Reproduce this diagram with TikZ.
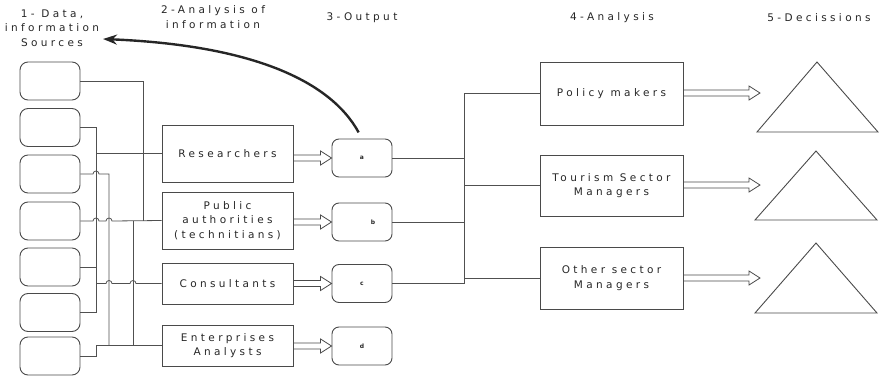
\documentclass[tikz,border=0pt]{standalone}
\usepackage{fontspec}
\usetikzlibrary{arrows.meta,calc}
\newfontfamily\diagfont{DejaVu Sans}[LetterSpace=32]
\definecolor{ink}{HTML}{262626}
\definecolor{edge}{HTML}{4A4A4A}
\definecolor{wirecol}{HTML}{505050}

% small bump where a wire jumps over a vertical one
\newcommand{\hop}[2]{-- ($(#1 |- #2)+(-3,0)$) arc[start angle=180,end angle=0,radius=3pt]}
% hollow block arrow, level with its target
\newcommand{\hollowarrow}[2]{%
  \draw[fat] let \p1=(#1), \p2=(#2) in
    (\x1,\y2+3pt) -- (\x2-11pt,\y2+3pt) -- (\x2-11pt,\y2+7pt) -- (\x2,\y2)
    -- (\x2-11pt,\y2-7pt) -- (\x2-11pt,\y2-3pt) -- (\x1,\y2-3pt);}

\begin{document}
\begin{tikzpicture}[
  x=1pt,y=-1pt,
  font=\diagfont\fontsize{10.5}{14.5}\selectfont,
  src/.style={draw=edge,line width=0.9pt,rounded corners=8pt,minimum width=60pt,minimum height=38pt},
  actor/.style={draw=edge,line width=0.9pt,minimum width=131pt,align=center,inner sep=0pt,text=ink},
  outbox/.style={draw=edge,line width=0.9pt,rounded corners=7pt,minimum width=60pt,minimum height=38pt,
    font=\diagfont\bfseries\fontsize{6}{7}\selectfont,text=ink},
  head/.style={align=center,text=ink,inner sep=0pt},
  wire/.style={draw=wirecol,line width=0.8pt},
  fat/.style={draw=edge,line width=0.8pt,line join=miter},
  tri/.style={draw=edge,line width=0.9pt,line join=miter},
  feedback/.style={draw=black!85,line width=2.4pt,-{Stealth[length=14pt,width=10pt]}}
]
\useasboundingbox (0,0) rectangle (879,378);

% column headings
\node[head] (h1) at (52,28)    {1- Data,\\information\\Sources};
\node[head] (h2) at (213,17)   {2-Analysis of\\information};
\node[head] (h3) at (362,18)   {3-Output};
\node[head] (h4) at (612,18)   {4-Analysis};
\node[head] (h5) at (819,18)   {5-Decissions};

% sources
\node[src] (s1) at (50,81)    {};
\node[src] (s2) at (50,127.5) {};
\node[src] (s3) at (50,174)   {};
\node[src] (s4) at (50,221)   {};
\node[src] (s5) at (50,267)   {};
\node[src] (s6) at (50,312.5) {};
\node[src] (s7) at (50,356)   {};

% who analyses
\node[actor,minimum height=57pt] (mres) at (227.5,153.5) {Researchers};
\node[actor,minimum height=57pt] (mpub) at (227.5,220.5) {Public\\authorities\\(technitians)};
\node[actor,minimum height=41pt] (mcon) at (227.5,283.5) {Consultants};
\node[actor,minimum height=41pt] (ment) at (227.5,345.5) {Enterprises\\Analysts};

% outputs
\node[outbox] (oa) at (362,158)   {a};
\node[outbox] (ob) at (362,222)   {\hspace*{22pt}b};
\node[outbox] (oc) at (362,283.5) {c};
\node[outbox] (od) at (362,346)   {d};

% users of the outputs
\node[actor,minimum width=143pt,minimum height=63pt] (apol)  at (611.5,93.5)  {Policy makers};
\node[actor,minimum width=143pt,minimum height=61pt] (atour) at (611.5,185.5) {Tourism Sector\\Managers};
\node[actor,minimum width=143pt,minimum height=62pt] (aoth)  at (611.5,278)   {Other sector\\Managers};

% decisions
\draw[tri] (817,62)  -- (878,132) -- (757,132) -- cycle;
\draw[tri] (816,151) -- (877,220) -- (755,220) -- cycle;
\draw[tri] (816,243) -- (877,313) -- (755,313) -- cycle;
\coordinate (d1) at (760,93);
\coordinate (d2) at (760,185);
\coordinate (d3) at (760,278);

% wiring columns
\coordinate (busA) at (96,0);
\coordinate (busB) at (109,0);
\coordinate (busC) at (133,0);
\coordinate (busD) at (143,0);
\coordinate (busR) at (464,0);

\draw[wire] (s1.east) -| (busD |- mpub.west);
\draw[wire] (s2.east) -| (busA |- s6.east);
\draw[wire] (busA |- mres.west) -- (mres.west);
\draw[wire] (s3.east) \hop{busA}{s3.east} -| (busB |- ment.west);
\draw[wire] (s4.east) \hop{busA}{s4.east} \hop{busB}{s4.east} -- (mpub.west);
\draw[wire] (s5.east) -- (busA |- s5.east);
\draw[wire] (s6.east) -- (busA |- s6.east);
\draw[wire] (busA |- mcon.west) \hop{busB}{mcon.west} \hop{busC}{mcon.west} -- (mcon.west);
\draw[wire] (busC |- mpub.west) -- (busC |- ment.west);
\draw[wire] (s7.east) -| (busA |- ment.west) -- (ment.west);

\hollowarrow{mres.east}{oa.west}
\hollowarrow{mpub.east}{ob.west}
\hollowarrow{mcon.east}{oc.west}
\hollowarrow{ment.east}{od.west}

\draw[wire] (oa.east) -- (busR |- oa.east);
\draw[wire] (ob.east) -- (busR |- ob.east);
\draw[wire] (oc.east) -| (busR |- apol.west) -- (apol.west);
\draw[wire] (busR |- atour.west) -- (atour.west);
\draw[wire] (busR |- aoth.west) -- (aoth.west);

\hollowarrow{apol.east}{d1}
\hollowarrow{atour.east}{d2}
\hollowarrow{aoth.east}{d3}

% back to the sources
\coordinate (back) at (103,39);
\draw[feedback,shorten <=7pt] (oa.north) .. controls (330,80) and (250,45) .. (back);
\end{tikzpicture}
\end{document}
